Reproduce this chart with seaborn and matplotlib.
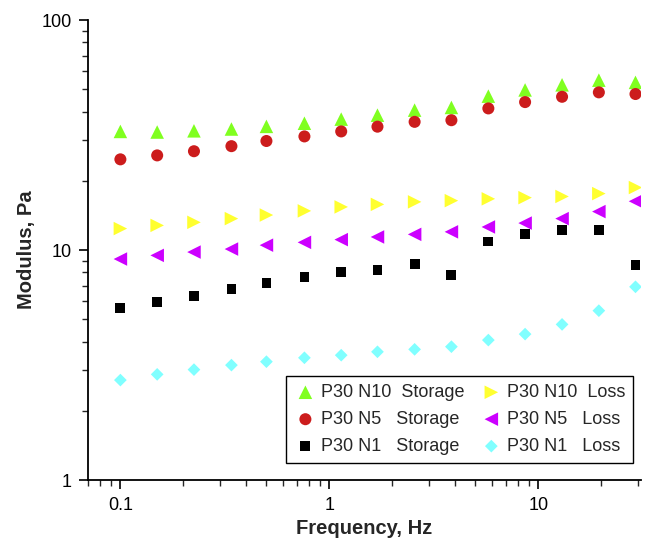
import matplotlib
matplotlib.use("Agg")
import matplotlib.pyplot as plt
import matplotlib.ticker as mticker
import seaborn as sns
import pandas as pd

freq = [0.1, 0.15, 0.225, 0.34, 0.5, 0.76, 1.14, 1.7, 2.56, 3.84, 5.77, 8.65, 13.0, 19.5, 29.2]

n10_storage = [32.8, 32.6, 33.0, 33.6, 34.5, 35.6, 37.1, 38.6, 40.6, 41.7, 46.7, 49.7, 52.3, 54.8, 53.6]
n5_storage = [24.8, 25.8, 26.9, 28.3, 29.8, 31.2, 32.8, 34.4, 36.1, 36.7, 41.3, 44.0, 46.4, 48.5, 47.7]
n1_storage = [5.60, 5.92, 6.31, 6.75, 7.21, 7.61, 8.05, 8.16, 8.67, 7.78, 10.9, 11.7, 12.2, 12.2, 8.63]
n10_loss = [12.4, 12.8, 13.2, 13.7, 14.2, 14.8, 15.4, 15.8, 16.2, 16.4, 16.7, 16.9, 17.1, 17.6, 18.7]
n5_loss = [9.14, 9.48, 9.80, 10.1, 10.5, 10.8, 11.1, 11.4, 11.7, 12.0, 12.6, 13.1, 13.7, 14.7, 16.3]
n1_loss = [2.72, 2.88, 3.02, 3.16, 3.27, 3.40, 3.49, 3.61, 3.70, 3.80, 4.06, 4.31, 4.75, 5.45, 6.92]

series_labels = ["P30 N10  Storage", "P30 N5   Storage", "P30 N1   Storage",
                 "P30 N10  Loss", "P30 N5   Loss", "P30 N1   Loss"]
series_values = [n10_storage, n5_storage, n1_storage, n10_loss, n5_loss, n1_loss]
series_markers = ["^", "o", "s", ">", "<", "D"]
series_colors = ["#80FF20", "#CC1C1C", "#000000", "#FFFF30", "#CC00FF", "#80FFFF"]
series_sizes = [95, 75, 50, 95, 95, 42]

x_ticks = [0.1, 1, 10]
x_tick_labels = ["0.1", "1", "10"]
y_ticks = [1, 10, 100]
y_tick_labels = ["1", "10", "100"]

rows = []
for lab, vals in zip(series_labels, series_values):
    for f, v in zip(freq, vals):
        rows.append({"Frequency": f, "Modulus": v, "Series": lab})
df = pd.DataFrame(rows)

sns.set_style("ticks")
plt.rcParams["font.family"] = ["Liberation Sans", "DejaVu Sans"]

fig = plt.figure(figsize=(6.52, 5.43), dpi=100)
ax = fig.add_axes([0.135, 0.116, 0.848, 0.847])

for lab, mk, col, sz in zip(series_labels, series_markers, series_colors, series_sizes):
    sub = df[df["Series"] == lab]
    sns.scatterplot(data=sub, x="Frequency", y="Modulus", ax=ax, marker=mk,
                    color=col, s=sz, edgecolor="none", linewidth=0, label=lab)

ax.set_xscale("log")
ax.set_yscale("log")
ax.set_xlim(0.07, 31)
ax.set_ylim(1, 100)

ax.xaxis.set_major_locator(mticker.FixedLocator(x_ticks))
ax.xaxis.set_major_formatter(mticker.FixedFormatter(x_tick_labels))
ax.yaxis.set_major_locator(mticker.FixedLocator(y_ticks))
ax.yaxis.set_major_formatter(mticker.FixedFormatter(y_tick_labels))
ax.xaxis.set_minor_locator(mticker.LogLocator(base=10, subs=range(2, 10)))
ax.yaxis.set_minor_locator(mticker.LogLocator(base=10, subs=range(2, 10)))
ax.xaxis.set_minor_formatter(mticker.NullFormatter())
ax.yaxis.set_minor_formatter(mticker.NullFormatter())

ax.tick_params(which="major", direction="out", length=6.5, width=1.2, labelsize=13,
               colors="black", pad=5)
ax.tick_params(which="minor", direction="out", length=4, width=1.0)
ax.tick_params(axis="x", which="major", pad=6)
for side in ["top", "right"]:
    ax.spines[side].set_visible(False)
for side in ["left", "bottom"]:
    ax.spines[side].set_linewidth(1.3)
    ax.spines[side].set_color("black")

ax.set_xlabel("Frequency, Hz", fontsize=14.5, fontweight="bold", labelpad=3)
ax.set_ylabel("Modulus, Pa", fontsize=14.5, fontweight="bold", labelpad=4)

leg = ax.legend(ncol=2, loc="lower right", bbox_to_anchor=(0.986, 0.037),
                borderaxespad=0,
                fontsize=13, frameon=True, fancybox=False, framealpha=1,
                edgecolor="black", handletextpad=0.25, columnspacing=0.9,
                borderpad=0.45, labelspacing=0.55, handlelength=1.2)
leg.get_frame().set_linewidth(1.0)

fig.savefig("out.png", dpi=100)
